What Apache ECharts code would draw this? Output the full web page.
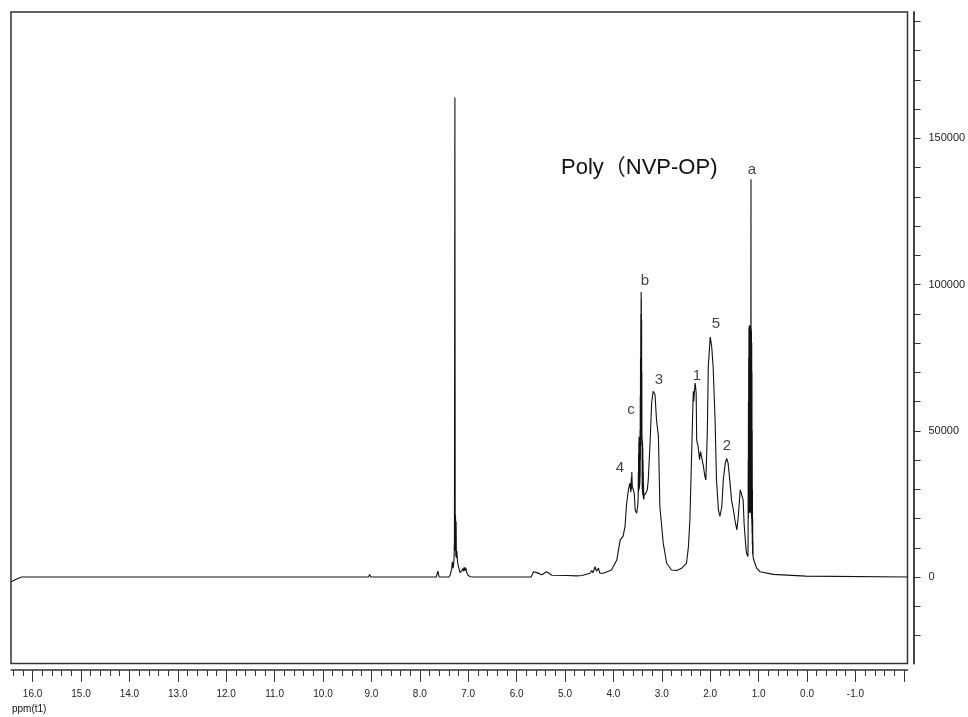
<!DOCTYPE html>
<html><head><meta charset="utf-8">
<script src="https://cdn.jsdelivr.net/npm/echarts@6/dist/echarts.min.js"></script>
<style>html,body{margin:0;padding:0;background:#fff}#c{width:968px;height:717px}</style>
</head><body><div id="c"></div>
<script>
// chemical shift (ppm) and signal intensity
const shiftPpm = [
16.446,16.34,16.23,9.06,9.035,9.01,7.66,7.625,7.60,7.40,7.37,7.34,7.33,7.31,7.295,7.285,7.275,7.268,7.262,7.256,7.25,7.244,7.235,7.22,7.20,7.17,7.15,7.13,7.11,7.095,7.085,7.075,7.065,7.055,7.045,7.03,7.00,6.95,6.90,
5.96,5.93,5.90,5.70,5.65,5.58,5.48,5.38,5.27,4.96,4.76,4.72,4.65,4.48,4.45,4.42,4.38,4.35,4.31,4.28,4.21,4.04,3.93,3.86,3.80,3.76,3.73,3.69,3.66,3.64,3.63,3.625,3.62,3.61,3.60,3.57,3.55,3.52,3.50,3.49,
3.4875,3.485,3.4825,3.48,3.4775,3.475,3.4725,3.47,3.4675,3.465,3.4625,3.46,3.4575,3.455,3.4525,3.45,3.4475,3.445,3.4425,3.44,3.4375,3.435,3.4325,3.43,3.4275,3.425,3.4225,3.42,3.4175,3.415,3.4125,3.41,3.4075,3.405,3.4025,3.40,3.3975,3.395,3.3925,3.39,3.3875,3.385,3.3825,3.38,3.3775,3.375,3.3725,3.37,3.365,3.36,3.35,
3.33,3.30,3.28,3.24,3.21,3.18,3.14,3.11,3.07,3.04,2.97,2.90,2.80,2.69,2.59,2.49,2.45,2.42,2.38,2.35,2.34,2.32,2.31,2.29,2.28,2.25,2.22,2.20,2.17,2.14,2.11,2.09,2.06,2.04,2.00,1.97,1.94,1.90,1.87,1.83,1.80,1.76,1.73,1.69,1.66,1.63,1.59,1.56,1.52,1.49,1.45,1.42,1.38,1.35,1.32,1.30,1.27,1.25,1.22,
1.2175,1.215,1.2125,1.21,1.2075,1.205,1.2025,1.20,1.1975,1.195,1.1925,1.19,1.1875,1.185,1.1825,1.18,1.1775,1.175,1.1725,1.17,1.1675,1.165,1.1625,1.16,1.1575,1.155,1.1525,1.15,1.1475,1.145,1.1425,1.14,1.1375,1.135,1.1325,1.13,1.1275,1.125,1.1225,1.12,1.1175,1.115,1.11,
1.10,1.04,0.97,0.70,0.02,-0.02,-2.076
];
const intensity = [
-1600,-800,0,0,900,0,0,2000,0,0,800,2800,5200,3000,5500,12000,164000,9000,21000,7000,19000,6500,9000,5000,3500,1500,1400,2200,2900,2000,3300,2200,3300,2300,3000,1500,500,100,0,
0,600,0,0,1800,1500,800,1800,600,500,400,0,500,1300,2200,1500,3500,2000,3000,1300,1300,2400,5800,12700,14000,17200,24700,29800,32100,29000,34000,30000,35900,31000,30900,28700,22900,21800,24000,26400,
28000,36000,29000,42000,29500,46000,30000,48000,30000,47000,30500,48000,31000,47500,32000,50000,34000,62000,40000,75000,45000,82000,90000,48000,97500,47000,95000,48000,88000,47000,70000,45000,48000,30000,47000,29000,46000,28500,44000,28000,40000,27500,36000,27000,32000,26500,29000,26500,28000,27500,27500,
28700,29800,33200,46900,59500,63500,62300,53800,48100,24100,11500,4700,2400,2200,3000,4700,10400,19500,44600,63500,60000,65000,66300,62900,46900,44600,40100,42900,42400,37800,34400,33200,49200,72000,82100,78900,72000,53800,33200,22900,20700,24100,33200,38900,40600,38900,32100,26400,22900,19500,16100,20700,29800,30400,26400,18400,11500,8100,7000,
12000,40000,20000,60000,22000,75000,22000,85000,23000,86000,22000,85000,23000,85700,22000,86000,22500,85000,22000,86000,22000,85000,22500,100000,136000,22000,85000,21000,84000,20000,80000,18000,70000,15000,50000,11000,30000,8000,20000,7500,12000,7000,7500,
5800,3000,1800,900,300,0,0
];
const peakNames = ['4','c','b','3','1','5','2','a'];
const peakPpm = [3.864,3.636,3.347,3.058,2.273,1.880,1.653,1.136];
const peakInt = [37300,57100,101200,67400,68700,86500,44800,139200];
const titleText = 'Poly（NVP-OP)';
const axisName = 'ppm(t1)';
const xLabelValues = [16,15,14,13,12,11,10,9,8,7,6,5,4,3,2,1,0,-1];
const xMajorTicks = [16,15,14,13,12,11,10,9,8,7,6,5,4,3,2,1,0,-1,-2];
const yTickValues = [-20000,-10000,0,10000,20000,30000,40000,50000,60000,70000,80000,90000,100000,110000,120000,130000,140000,150000,160000,170000,180000,190000];
const yLabelValues = [0,50000,100000,150000];

const xMinorTicks = [];
for (let v = -20; v <= 164; v += 2) xMinorTicks.push(v / 10);

const spectrum = shiftPpm.map((p, i) => [p, intensity[i]]);
const X_MIN = -2.076, X_MAX = 16.446, Y_MIN = -29580, Y_MAX = 193230;
const font = "'Liberation Sans', 'Noto Sans CJK SC', sans-serif";
const rect = {left: 11, right: 60.5, top: 12, bottom: 53.5, outerBoundsMode: 'none', containLabel: false};

const chart = echarts.init(document.getElementById('c'), null, {renderer: 'canvas'});
chart.setOption({
  animation: false,
  backgroundColor: '#fff',
  title: [
    {text: titleText, left: 561, top: 157, padding: 0,
     textStyle: {fontSize: 22, fontWeight: 'normal', color: '#111', fontFamily: font}},
    {text: axisName, left: 12, top: 704, padding: 0,
     textStyle: {fontSize: 10, fontWeight: 'normal', color: '#111', fontFamily: font}}
  ],
  grid: [
    Object.assign({show: true, borderColor: '#333', borderWidth: 1.5, backgroundColor: 'transparent'}, rect),
    Object.assign({}, rect)
  ],
  xAxis: [
    {gridIndex: 0, type: 'value', inverse: true, min: X_MIN, max: X_MAX, position: 'bottom', offset: 6.5,
     axisLine: {show: true, onZero: false, lineStyle: {color: '#333', width: 1.5}},
     axisTick: {show: true, customValues: xMinorTicks, length: 6, lineStyle: {color: '#333', width: 1}},
     axisLabel: {show: false}, splitLine: {show: false}},
    {gridIndex: 1, type: 'value', inverse: true, min: X_MIN, max: X_MAX, position: 'bottom', offset: 6.5,
     axisLine: {show: false, onZero: false},
     axisTick: {show: true, customValues: xMajorTicks, length: 12, lineStyle: {color: '#333', width: 1}},
     axisLabel: {show: true, customValues: xLabelValues, formatter: v => Number(v).toFixed(1),
                 fontSize: 10, color: '#222', margin: 19, fontFamily: font},
     splitLine: {show: false}}
  ],
  yAxis: [
    {gridIndex: 0, type: 'value', position: 'right', offset: 6, min: Y_MIN, max: Y_MAX,
     axisLine: {show: true, onZero: false, lineStyle: {color: '#444', width: 2}},
     axisTick: {show: true, customValues: yTickValues, length: 7, lineStyle: {color: '#333', width: 1}},
     axisLabel: {show: true, customValues: yLabelValues, formatter: v => String(v), margin: 15, fontSize: 11, color: '#222', fontFamily: font},
     splitLine: {show: false}},
    {gridIndex: 1, type: 'value', show: false, min: Y_MIN, max: Y_MAX, splitLine: {show: false}}
  ],
  series: [
    {type: 'line', xAxisIndex: 0, yAxisIndex: 0, data: spectrum, symbol: 'none', showSymbol: false,
     lineStyle: {color: '#111', width: 1.1}, silent: true, sampling: null},
    {type: 'scatter', xAxisIndex: 0, yAxisIndex: 0, symbol: 'circle', symbolSize: 1,
     itemStyle: {color: 'rgba(0,0,0,0)'}, silent: true,
     data: peakNames.map((n, i) => ({name: n, value: [peakPpm[i], peakInt[i]]})),
     label: {show: true, position: 'inside', formatter: '{b}', fontSize: 15, color: '#111', fontFamily: font}}
  ]
});
</script>
</body></html>
